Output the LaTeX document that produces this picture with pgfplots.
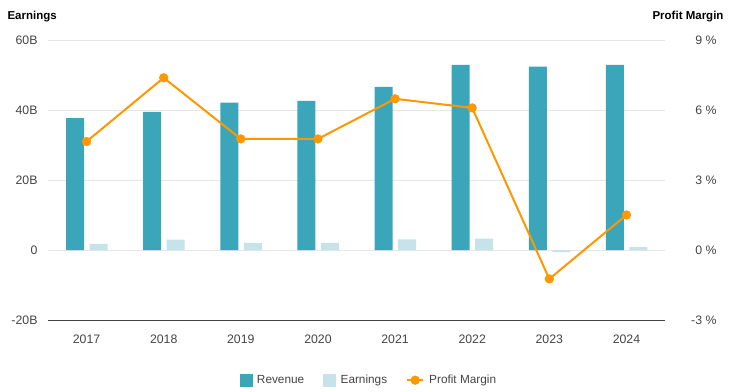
\documentclass[border=0pt]{standalone}
\usepackage{pgfplots}
\pgfplotsset{compat=1.18}
\usepackage{fontspec}
\setmainfont{Liberation Sans}
\definecolor{rev}{HTML}{3BA6B9}
\definecolor{earn}{HTML}{C5E3E8}
\definecolor{pm}{HTML}{FF9800}
\definecolor{gridc}{HTML}{E6E6E6}
\definecolor{txt}{HTML}{444444}
\pgfplotsset{
  base/.style={
    at={(48pt,71pt)}, anchor=south west,
    scale only axis, width=617pt, height=280pt,
    xmin=-0.5, xmax=7.5,
    axis line style={draw=none}, tick style={draw=none},
    ticklabel style={font=\fontsize{12.3}{14}\selectfont, text=txt},
  }
}
\begin{document}
\begin{tikzpicture}
\useasboundingbox (0,0) rectangle (735pt,391pt);
\begin{axis}[base,
  ymin=-20, ymax=60,
  ytick={-20,0,20,40,60}, yticklabels={-20B,0,20B,40B,60B},
  xtick={0,...,7}, xticklabels={2017,2018,2019,2020,2021,2022,2023,2024},
  xticklabel style={yshift=-11pt},
  yticklabel style={xshift=-7pt},
  ymajorgrids, grid style={gridc, line width=0.8pt},
  bar width=18pt,
]
\addplot[ybar, fill=rev, draw=none, bar shift=-11.5pt] coordinates {
 (0,37.7) (1,39.5) (2,42.1) (3,42.6) (4,46.6) (5,52.9) (6,52.4) (7,52.9)};
\addplot[ybar, fill=earn, draw=none, bar shift=12pt] coordinates {
 (0,1.76) (1,2.93) (2,2.02) (3,2.04) (4,3.03) (5,3.24) (6,-0.63) (7,0.81)};
\draw[txt, line width=0.9pt] (axis cs:-0.5,-20) -- (axis cs:7.5,-20);
\end{axis}
\begin{axis}[base,
  ymin=-3, ymax=9,
  ytick={-3,0,3,6,9}, yticklabels={-3 \%,0 \%,3 \%,6 \%,9 \%},
  yticklabel pos=right,
  yticklabel style={anchor=east, xshift=55pt},
  xtick=\empty,
  legend style={at={(0.52,-0.215)}, anchor=center, draw=none, fill=none,
    legend columns=3, font=\fontsize{11.8}{13}\selectfont, text=txt,
    /tikz/every odd column/.append style={column sep=3pt},
    /tikz/every even column/.append style={column sep=17pt}},
  legend cell align=left,
]
\addlegendimage{legend image code/.code={\fill[rev] (0pt,-6pt) rectangle (12pt,6pt);}}
\addlegendentry{Revenue}
\addlegendimage{legend image code/.code={\fill[earn] (0pt,-6pt) rectangle (12pt,6pt);}}
\addlegendentry{Earnings}
\addplot[pm, line width=2pt, mark=*, mark size=3.6pt, mark options={fill=pm, draw=pm},
  legend image code/.code={\draw[pm, line width=2pt] (0pt,0pt) -- (16pt,0pt); \fill[pm] (8pt,0pt) circle (3.6pt);}] coordinates {
 (0,4.65) (1,7.38) (2,4.76) (3,4.76) (4,6.48) (5,6.09) (6,-1.24) (7,1.50)};
\addlegendentry{Profit Margin}
\end{axis}
\node[anchor=west, font=\bfseries\fontsize{11.5}{13}\selectfont, text=black] at (4pt,374pt) {Earnings};
\node[anchor=east, font=\bfseries\fontsize{11.5}{13}\selectfont, text=black] at (727pt,374pt) {Profit Margin};
\end{tikzpicture}
\end{document}
